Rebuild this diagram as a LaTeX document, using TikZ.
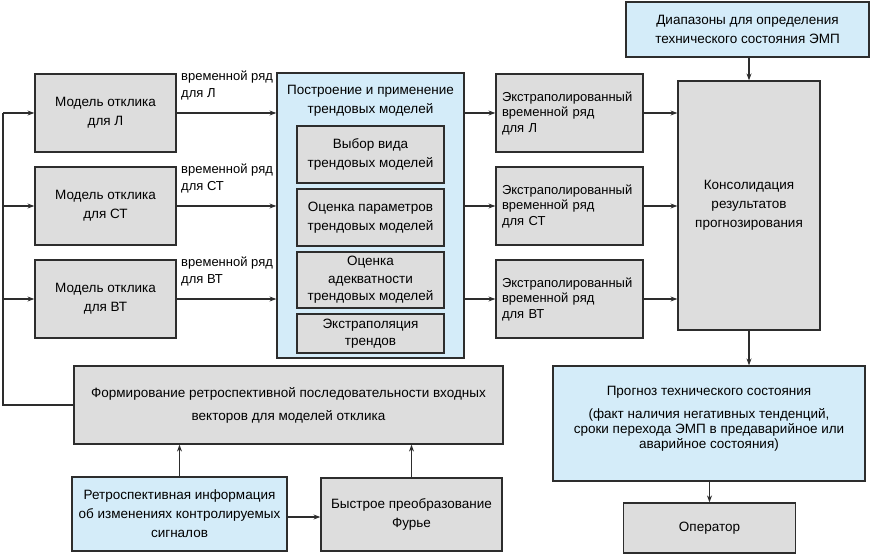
\documentclass[tikz,border=0pt]{standalone}
\usepackage{fontspec}
\setmainfont{Liberation Sans}
\usetikzlibrary{arrows.meta}
\definecolor{boxgray}{RGB}{221,221,221}
\definecolor{boxblue}{RGB}{212,236,249}
\definecolor{edge}{RGB}{45,45,45}
\tikzset{
  base/.style={draw=edge, line width=1.2pt, inner sep=2pt, align=center,
    font=\fontsize{13.5}{19}\selectfont},
  gbox/.style={base, fill=boxgray},
  bbox/.style={base, fill=boxblue},
  txt/.style={inner sep=0pt, align=center, font=\fontsize{13.5}{19}\selectfont},
  lbl/.style={inner sep=0pt, align=left, font=\fontsize{13}{17}\selectfont},
  arr/.style={draw=edge, line width=1.2pt, -{Stealth[length=7pt,width=5pt]}},
  ln/.style={draw=edge, line width=1.2pt},
}
\begin{document}
\begin{tikzpicture}[x=1pt,y=-1pt]
\useasboundingbox (0,0) rectangle (873,556);
% left models
\node[gbox, minimum width=141pt, minimum height=78pt] (mL) at (105.5,113) {Модель отклика\\для Л};
\node[gbox, minimum width=141pt, minimum height=78pt] (mS) at (105.5,206) {Модель отклика\\для СТ};
\node[gbox, minimum width=141pt, minimum height=78pt] (mB) at (105.5,299) {Модель отклика\\для ВТ};
% trend block
\node[bbox, minimum width=187pt, minimum height=285pt] (tr) at (370.5,215.5) {};
\node[txt] (trt) at (370.5,100.5) {Построение и применение\\трендовых моделей};
\node[gbox, minimum width=147pt, minimum height=57pt] (i1) at (370.5,154.5) {Выбор вида\\трендовых моделей};
\node[gbox, minimum width=147pt, minimum height=57pt] (i2) at (370.5,217.5) {Оценка параметров\\трендовых моделей};
\node[gbox, minimum width=147pt, minimum height=56pt, font=\fontsize{13.5}{17.5}\selectfont] (i3) at (370.5,280) {Оценка\\адекватности\\трендовых моделей};
\node[gbox, minimum width=147pt, minimum height=39pt, font=\fontsize{13.5}{17}\selectfont] (i4) at (370.5,333.5) {Экстраполяция\\трендов};
% extrapolated
\tikzset{ebox/.style={gbox, minimum width=147pt, minimum height=78pt, text width=135pt, align=left, font=\fontsize{13}{15.5}\selectfont}}
\node[ebox] (eL) at (569.5,113) {Экстраполированный\\временной ряд\\для Л};
\node[ebox] (eS) at (569.5,206) {Экстраполированный\\временной ряд\\для СТ};
\node[ebox] (eB) at (569.5,299) {Экстраполированный\\временной ряд\\для ВТ};
% right column
\node[gbox, minimum width=142pt, minimum height=249pt] (cons) at (749,205.5) {Консолидация\\результатов\\прогнозирования};
\node[bbox, minimum width=243pt, minimum height=55pt] (diap) at (747.5,29.5) {Диапазоны для определения\\технического состояния ЭМП};
\node[bbox, minimum width=312pt, minimum height=115pt] (prog) at (709,423.5) {};
\node[txt, font=\fontsize{13.5}{15}\selectfont, yshift=5pt] (progt) at (prog.center) {Прогноз технического состояния\\[8pt](факт наличия негативных тенденций,\\сроки перехода ЭМП в предаварийное или\\аварийное состояния)};
\node[gbox, minimum width=172pt, minimum height=50pt] (oper) at (709.5,528) {Оператор};
% bottom
\node[gbox, minimum width=429pt, minimum height=78pt, font=\fontsize{13.5}{23}\selectfont] (form) at (288.5,405) {Формирование ретроспективной последовательности входных\\векторов для моделей отклика};
\node[bbox, minimum width=215pt, minimum height=74pt] (retro) at (179.5,514) {Ретроспективная информация\\об изменениях контролируемых\\сигналов};
\node[gbox, minimum width=181pt, minimum height=73pt] (four) at (411.5,514.5) {Быстрое преобразование\\Фурье};
% labels
\node[lbl, anchor=north west] (lL) at (181,71) {временной ряд\\для Л};
\node[lbl, anchor=north west] (lS) at (181,164) {временной ряд\\для СТ};
\node[lbl, anchor=north west] (lB) at (181,257) {временной ряд\\для ВТ};
% arrows models -> trend
\draw[arr] (mL.east) -- (mL.east -| tr.west);
\draw[arr] (mS.east) -- (mS.east -| tr.west);
\draw[arr] (mB.east) -- (mB.east -| tr.west);
% trend -> extrap
\draw[arr] (eL.west -| tr.east) -- (eL.west);
\draw[arr] (eS.west -| tr.east) -- (eS.west);
\draw[arr] (eB.west -| tr.east) -- (eB.west);
% extrap -> cons
\draw[arr] (eL.east) -- (eL.east -| cons.west);
\draw[arr] (eS.east) -- (eS.east -| cons.west);
\draw[arr] (eB.east) -- (eB.east -| cons.west);
% right column
\draw[arr] (diap.south -| cons.north) -- (cons.north);
\draw[arr] (cons.south) -- (cons.south |- prog.north);
\draw[arr] (prog.south -| oper.north) -- (oper.north);
% feedback
\coordinate (fbB) at (3,299);
\coordinate (fbS) at (3,206);
\coordinate (fbL) at (3,113);
\coordinate (fbF) at (3,405);
\draw[ln] (form.west) -- (fbF) -- (fbL);
\draw[arr] (fbL) -- (mL.west);
\draw[arr] (fbS) -- (mS.west);
\draw[arr] (fbB) -- (mB.west);
% bottom arrows
\draw[arr] (retro.north) -- (retro.north |- form.south);
\draw[arr] (four.north) -- (four.north |- form.south);
\draw[arr] (retro.east |- 0,517) -- (four.west |- 0,517);
\end{tikzpicture}
\end{document}
